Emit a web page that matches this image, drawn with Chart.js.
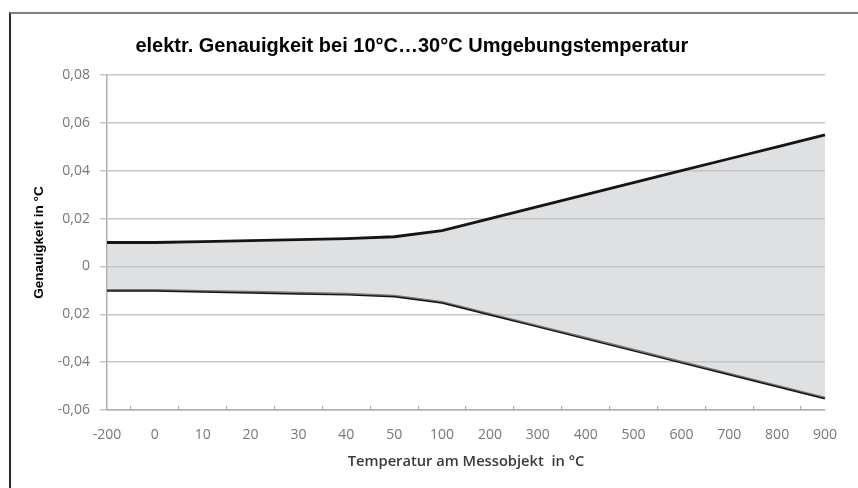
<!DOCTYPE html>
<html><head><meta charset="utf-8">
<script src="https://cdn.jsdelivr.net/npm/chart.js@4/dist/chart.umd.min.js"></script>
<style>
html,body{margin:0;padding:0;background:#fff;overflow:hidden;}
#wrap{position:relative;width:858px;height:488px;}
#frame{position:absolute;left:9px;top:12px;width:860px;height:480px;border-top:2px solid #7f7f7f;border-left:2px solid #2a2a2a;}
canvas{position:absolute;left:0;top:0;}
</style></head><body>
<div id="wrap"><div id="frame"></div><canvas id="c" width="858" height="488"></canvas></div>
<script>
const chartTitle = 'elektr. Genauigkeit bei 10°C…30°C Umgebungstemperatur';
const xAxisTitle = 'Temperatur am Messobjekt  in °C';
const yAxisTitle = 'Genauigkeit in °C';
const categories = ['-200','0','10','20','30','40','50','100','200','300','400','500','600','700','800','900'];
const upperLimit = [0.010,0.010,0.0104,0.0108,0.0112,0.0116,0.0124,0.015,0.020,0.025,0.030,0.035,0.040,0.045,0.050,0.055];
const lowerLimit = [-0.010,-0.010,-0.0104,-0.0108,-0.0112,-0.0116,-0.0124,-0.015,-0.020,-0.025,-0.030,-0.035,-0.040,-0.045,-0.050,-0.055];
const yTickLabels = ['-0,06','-0,04','0,02','0','0,02','0,04','0,06','0,08'];

const titlePlugin = {
  id: 'customTitle',
  afterDraw(chart) {
    const ctx = chart.ctx;
    ctx.save();
    ctx.font = 'bold 20px "Liberation Sans", Arial, sans-serif';
    ctx.fillStyle = '#000';
    ctx.textAlign = 'center';
    ctx.textBaseline = 'middle';
    ctx.fillText(chartTitle, chart.width * 0.48, 46);
    ctx.restore();
  }
};

new Chart(document.getElementById('c'), {
  type: 'line',
  data: {
    labels: categories,
    datasets: [
      { data: upperLimit, borderColor: '#151515', borderWidth: 2.8, pointRadius: 0, tension: 0,
        fill: '+1', backgroundColor: 'rgba(196,198,202,0.55)' },
      { data: lowerLimit, borderColor: '#151515', borderWidth: 2.8, pointRadius: 0, tension: 0, fill: false }
    ]
  },
  options: {
    responsive: false,
    animation: false,
    devicePixelRatio: 1,
    layout: { padding: { left: 0, right: 25, top: 75, bottom: 0 } },
    plugins: { legend: { display: false }, tooltip: { enabled: false }, title: { display: false } },
    scales: {
      x: {
        type: 'category',
        offset: false,
        afterFit(scale) { scale.height = 78; },
        grid: { display: true, drawOnChartArea: false, offset: true, tickLength: -4, color: '#a8a8a8', lineWidth: 1.2 },
        border: { display: true, color: '#b0b0b0', width: 1.5 },
        ticks: { autoSkip: false, maxRotation: 0, padding: 21, color: '#777777',
                 font: { family: '"Open Sans", sans-serif', size: 14 } },
        title: { display: true, text: xAxisTitle, color: '#3a3a3a', padding: { top: 0, bottom: 17 },
                 font: { family: '"Open Sans", sans-serif', size: 14.7, weight: '600' } }
      },
      y: {
        min: -0.06, max: 0.08,
        afterFit(scale) { scale.width = 107; },
        afterBuildTicks(scale) {
          scale.ticks = yTickLabels.map((t, i) => ({ value: -0.06 + i * 0.02 }));
        },
        grid: { color: '#c6c6c6', lineWidth: 1.5, tickLength: 7 },
        border: { display: true, color: '#b0b0b0', width: 1.5 },
        ticks: { padding: 10, color: '#777777',
                 font: { family: '"Open Sans", sans-serif', size: 14 },
                 callback: (v, i) => yTickLabels[i] },
        title: { display: true, text: yAxisTitle, color: '#000', padding: { top: 31, bottom: 0 },
                 font: { family: '"Liberation Sans", Arial, sans-serif', size: 13.6, weight: 'bold' } }
      }
    }
  },
  plugins: [titlePlugin]
});
</script>
</body></html>
